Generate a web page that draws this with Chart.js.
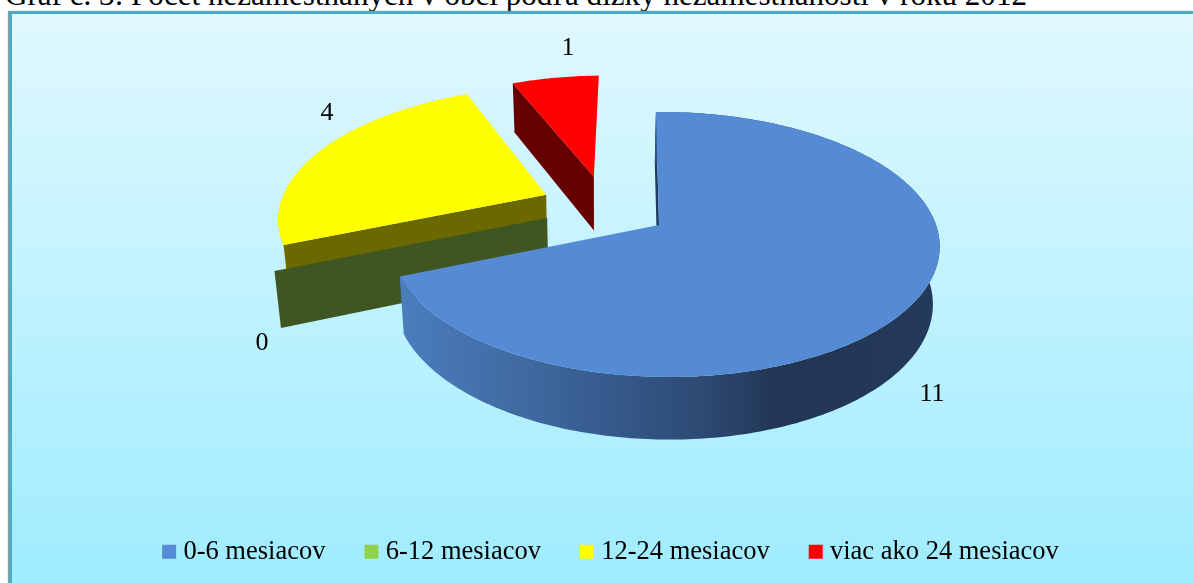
<!DOCTYPE html>
<html><head><meta charset="utf-8">
<script src="https://cdn.jsdelivr.net/npm/chart.js@4"></script>
<style>
html,body{margin:0;padding:0;background:#fff;width:1193px;height:583px;overflow:hidden}
#title{position:absolute;left:5px;top:-23px;font:31.1px "Liberation Serif",serif;color:#000;white-space:nowrap}
#frame{position:absolute;left:9px;top:11px;width:1184px;height:572px;box-sizing:border-box;border:solid #4bacc6;border-width:3px 0 0 3px;background:linear-gradient(#e0f8ff,#9fecff);box-shadow:-1px 0 1px #999}
#c{position:absolute;left:0;top:0}
</style></head><body>
<div id="title">Graf č. 3: Počet nezamestnaných v obci podľa dĺžky nezamestnanosti v roku 2012</div>
<div id="frame"></div>
<canvas id="c" width="1193" height="583"></canvas>
<script>
const categories=["0-6 mesiacov","6-12 mesiacov","12-24 mesiacov","viac ako 24 mesiacov"];
const values=[11,0,4,1];
const sliceColors=["#558ad5","#92d050","#ffff00","#ff0000"];
const wallColors=["#1f3a5f","#3f5623","#6b6800","#660000"];
// exploded offset and radius of each slice in the pie plane, in radii
const explodeU=[0,-0.418,-0.431,-0.25];
const explodeV=[0,-0.055,-0.243,-0.395];
const sliceRadius=[1,1.05,1.04,1];
const labelSpots=[[932,394],[262,343],[327,113],[568,48]];
const P={cx:659,cy:225,b:271,a:129.6,p:0.147,q:0.02,vx:635,depth:56,lowVx:600,shrink:0.98};
function proj(u,v,low){
  const d=1-P.p*v-P.q*u;
  let x=P.vx+(P.b*u+P.cx-P.vx)/d, y=P.cy+P.a*v/d;
  if(low){x=P.lowVx+(x-P.lowVx)*P.shrink; y+=P.depth*Math.pow(d,-0.7);}
  return [x,y];
}
function pt(i,ang,r,low){
  const th=ang+Math.PI/2, R=r*sliceRadius[i];
  return proj(explodeU[i]+R*Math.sin(th),explodeV[i]-R*Math.cos(th),low);
}
function poly(ctx,pts,fill){
  ctx.beginPath();pts.forEach((q,k)=>k?ctx.lineTo(q[0],q[1]):ctx.moveTo(q[0],q[1]));ctx.closePath();
  ctx.fillStyle=fill;ctx.fill();
}
function rim(e,i,low){
  const out=[];const n=Math.max(1,Math.ceil((e.endAngle-e.startAngle)*60));
  for(let k=0;k<=n;k++)out.push(pt(i,e.startAngle+(e.endAngle-e.startAngle)*k/n,1,low));
  return out;
}
const pie3d={
  id:'pie3d',
  beforeDatasetsDraw(chart){
    const ctx=chart.ctx, arcs=chart.getDatasetMeta(0).data;
    ctx.save();
    [3,2,1,0].forEach(i=>{
      const e=arcs[i], A=e.startAngle;
      const wall=(ang)=>[pt(i,ang,0,false),pt(i,ang,1,false),pt(i,ang,1,true),pt(i,ang,0,true)];
      const cap=()=>poly(ctx,[pt(i,A,0,false)].concat(rim(e,i,false)),sliceColors[i]);
      if(i===0){
        poly(ctx,wall(A),wallColors[0]);
        const g=ctx.createLinearGradient(400,0,940,0);
        g.addColorStop(0,"#4b7dbd");g.addColorStop(.185,"#426ea6");g.addColorStop(.37,"#375c8f");g.addColorStop(.556,"#2d4a73");g.addColorStop(.7,"#223655");g.addColorStop(1,"#243a5c");
        poly(ctx,rim(e,i,false).concat(rim(e,i,true).reverse()),g);
        cap();
      }else if(i===1){
        poly(ctx,wall(A),wallColors[1]);
      }else if(i===2){
        poly(ctx,rim(e,i,false).concat(rim(e,i,true).reverse()),"#f0f000");
        poly(ctx,wall(A),wallColors[2]);
        cap();
      }else{
        poly(ctx,wall(A),wallColors[3]);
        cap();
      }
    });
    ctx.fillStyle="#000";ctx.font='26px "Liberation Serif"';ctx.textAlign="center";ctx.textBaseline="middle";
    values.forEach((v,i)=>ctx.fillText(String(v),labelSpots[i][0],labelSpots[i][1]));
    ctx.restore();
    return false;
  }
};
new Chart(document.getElementById('c'),{
  type:'pie',
  data:{labels:categories,datasets:[{data:values,backgroundColor:sliceColors,borderWidth:0}]},
  options:{
    responsive:false,animation:false,events:[],
    layout:{padding:{left:34,bottom:8}},
    plugins:{tooltip:{enabled:false},title:{display:false},
      legend:{position:'bottom',labels:{usePointStyle:true,pointStyle:'rect',boxWidth:2,boxHeight:14,padding:45,color:"#000",font:{family:'"Liberation Serif"',size:26.5}}}}
  },
  plugins:[pie3d]
});
</script></body></html>
